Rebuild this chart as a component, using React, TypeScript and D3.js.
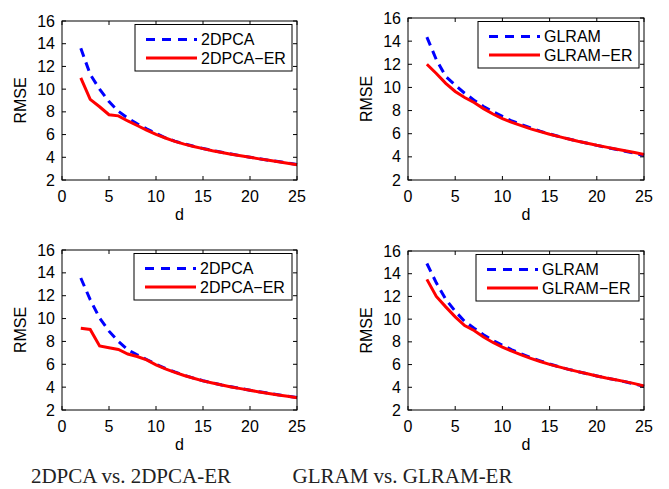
import React from "react";
import * as d3 from "d3";

const dims = [2, 3, 4, 5, 6, 7, 8, 9, 10, 11, 12, 13, 14, 15, 16, 17, 18, 19, 20, 21, 22, 23, 24, 25];

const pca1Base = [13.6, 11.3, 10.0, 8.9, 8.05, 7.45, 6.95, 6.5, 6.1, 5.72, 5.42, 5.18, 4.97, 4.78, 4.6, 4.44, 4.29, 4.14, 4.0, 3.87, 3.74, 3.62, 3.5, 3.37];
const pca1ER = [11.0, 9.1, 8.45, 7.75, 7.65, 7.2, 6.8, 6.4, 6.02, 5.7, 5.4, 5.16, 4.95, 4.76, 4.58, 4.42, 4.27, 4.13, 4.0, 3.86, 3.73, 3.6, 3.47, 3.35];

const glram1Base = [14.35, 12.4, 10.95, 10.2, 9.5, 8.9, 8.35, 7.9, 7.5, 7.1, 6.8, 6.5, 6.22, 5.98, 5.76, 5.55, 5.35, 5.17, 4.99, 4.82, 4.66, 4.49, 4.31, 4.12];
const glram1ER = [12.0, 11.2, 10.35, 9.65, 9.13, 8.7, 8.17, 7.7, 7.3, 6.98, 6.7, 6.42, 6.18, 5.95, 5.75, 5.55, 5.35, 5.18, 5.0, 4.84, 4.68, 4.52, 4.37, 4.2];

const pca2Base = [13.55, 11.65, 10.05, 8.9, 8.0, 7.27, 6.83, 6.42, 6.0, 5.65, 5.33, 5.04, 4.79, 4.56, 4.37, 4.19, 4.03, 3.88, 3.73, 3.59, 3.46, 3.33, 3.21, 3.09];
const pca2ER = [9.15, 9.05, 7.6, 7.45, 7.3, 6.9, 6.68, 6.38, 5.95, 5.6, 5.3, 5.02, 4.78, 4.55, 4.36, 4.18, 4.02, 3.87, 3.72, 3.58, 3.45, 3.32, 3.2, 3.08];

const glram2Base = [14.9, 13.2, 11.75, 10.7, 9.8, 9.2, 8.63, 8.13, 7.7, 7.3, 6.95, 6.62, 6.33, 6.05, 5.8, 5.58, 5.38, 5.19, 5.0, 4.82, 4.65, 4.48, 4.29, 4.08];
const glram2ER = [13.5, 12.0, 11.08, 10.2, 9.43, 9.0, 8.43, 7.95, 7.54, 7.18, 6.85, 6.55, 6.27, 6.02, 5.8, 5.58, 5.38, 5.19, 5.0, 4.82, 4.66, 4.5, 4.32, 4.12];

const xTicks = [0, 5, 10, 15, 20, 25];
const yTicks = [2, 4, 6, 8, 10, 12, 14, 16];
const xLabel = "d";
const yLabel = "RMSE";
const captions = ["2DPCA vs. 2DPCA-ER", "GLRAM vs. GLRAM-ER"];

const FONT = "'Liberation Sans', Arial, Helvetica, sans-serif";

type PanelProps = {
  box: { left: number; right: number; top: number; bottom: number };
  base: number[];
  er: number[];
  names: [string, string];
  legendW: number;
};

function Panel({ box, base, er, names, legendW }: PanelProps) {
  const x = d3.scaleLinear().domain([0, 25]).range([box.left, box.right]);
  const y = d3.scaleLinear().domain([2, 16]).range([box.bottom, box.top]);
  const line = d3
    .line<number>()
    .x((_, i) => x(dims[i]))
    .y((v) => y(v));
  const tl = 4;
  const lx1 = box.right - 5 - legendW;
  const ly1 = box.top + 3.5;
  const lh = 46.5;
  return (
    <g>
      <rect x={box.left} y={box.top} width={box.right - box.left} height={box.bottom - box.top} fill="white" />
      <path d={line(base) || ""} fill="none" stroke="#0000ff" strokeWidth={3} strokeDasharray="9,6" />
      <path d={line(er) || ""} fill="none" stroke="#ff0000" strokeWidth={3} />
      <rect
        x={box.left}
        y={box.top}
        width={box.right - box.left}
        height={box.bottom - box.top}
        fill="none"
        stroke="black"
        strokeWidth={1}
      />
      {xTicks.map((t) => (
        <g key={"x" + t}>
          <line x1={x(t)} x2={x(t)} y1={box.bottom} y2={box.bottom - tl} stroke="black" />
          <line x1={x(t)} x2={x(t)} y1={box.top} y2={box.top + tl} stroke="black" />
          <text x={x(t)} y={box.bottom + 22} textAnchor="middle" fontSize={16} fontFamily={FONT}>
            {t}
          </text>
        </g>
      ))}
      {yTicks.map((t) => (
        <g key={"y" + t}>
          <line x1={box.left} x2={box.left + tl} y1={y(t)} y2={y(t)} stroke="black" />
          <line x1={box.right} x2={box.right - tl} y1={y(t)} y2={y(t)} stroke="black" />
          <text x={box.left - 7} y={y(t) + 5.5} textAnchor="end" fontSize={16} fontFamily={FONT}>
            {t}
          </text>
        </g>
      ))}
      <text
        x={(box.left + box.right) / 2}
        y={box.bottom + 40}
        textAnchor="middle"
        fontSize={16}
        fontFamily={FONT}
      >
        {xLabel}
      </text>
      <text
        transform={`translate(${box.left - 36},${(box.top + box.bottom) / 2}) rotate(-90)`}
        textAnchor="middle"
        fontSize={16}
        fontFamily={FONT}
      >
        {yLabel}
      </text>
      <rect x={lx1} y={ly1} width={legendW} height={lh} fill="white" stroke="black" strokeWidth={1} />
      <line x1={lx1 + 11} x2={lx1 + 62} y1={ly1 + 15} y2={ly1 + 15} stroke="#0000ff" strokeWidth={3} strokeDasharray="9,7" />
      <line x1={lx1 + 11} x2={lx1 + 62} y1={ly1 + 33.5} y2={ly1 + 33.5} stroke="#ff0000" strokeWidth={3} />
      <text x={lx1 + 66} y={ly1 + 20.5} fontSize={16} fontFamily={FONT}>
        {names[0]}
      </text>
      <text x={lx1 + 66} y={ly1 + 39.5} fontSize={16} fontFamily={FONT}>
        {names[1]}
      </text>
    </g>
  );
}

export default function App() {
  return (
    <svg
      width={669}
      height={489}
      style={{ position: "absolute", left: 0, top: 0, background: "white" }}
    >
      <rect x={0} y={0} width={669} height={489} fill="white" />
      <Panel box={{ left: 62, right: 297, top: 21, bottom: 180 }} base={pca1Base} er={pca1ER} names={["2DPCA", "2DPCA−ER"]} legendW={157} />
      <Panel box={{ left: 408, right: 644, top: 18, bottom: 180 }} base={glram1Base} er={glram1ER} names={["GLRAM", "GLRAM−ER"]} legendW={161} />
      <Panel box={{ left: 62, right: 297, top: 250, bottom: 410 }} base={pca2Base} er={pca2ER} names={["2DPCA", "2DPCA−ER"]} legendW={158} />
      <Panel box={{ left: 408, right: 644, top: 251, bottom: 410 }} base={glram2Base} er={glram2ER} names={["GLRAM", "GLRAM−ER"]} legendW={163} />
      <text x={131} y={483} textAnchor="middle" fontSize={21} fontFamily="'Liberation Serif', 'Times New Roman', serif" fill="#222">
        {captions[0]}
      </text>
      <text x={402.5} y={483} textAnchor="middle" fontSize={21} fontFamily="'Liberation Serif', 'Times New Roman', serif" fill="#222">
        {captions[1]}
      </text>
    </svg>
  );
}
